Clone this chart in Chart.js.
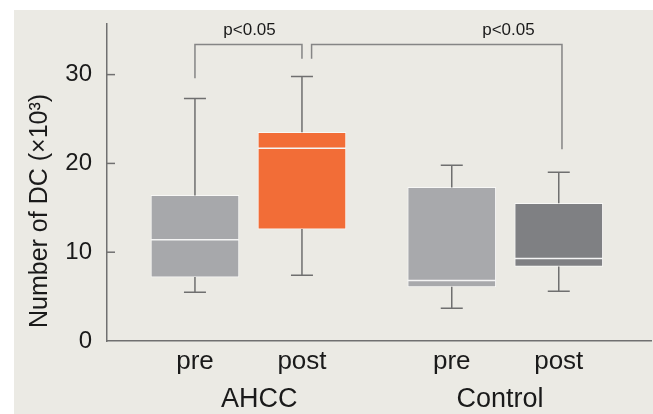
<!DOCTYPE html>
<html lang="en">
<head>
    <meta charset="UTF-8">
    <title>Number of DC</title>
    <script src="https://cdn.jsdelivr.net/npm/chart.js"></script>
    <style>
        html, body { margin: 0; padding: 0; background: #ffffff; }
        #wrap {
            position: absolute; left: 14px; top: 10px;
            width: 639px; height: 404px;
            background: #ebeae4;
        }
    </style>
</head>
<body>
    <div id="wrap"><canvas id="dcChart"></canvas></div>

    <script>
        // categories and groups
        const categories = ['pre', 'post', 'pre', 'post'];
        const catX = [1, 2, 3.4, 4.4];
        const groups = ['AHCC', 'Control'];
        const groupX = [1.6, 3.85];

        // box plot values (x10^3)
        const minVals = [5.5, 7.4, 3.7, 5.6];
        const q1Vals = [7.2, 12.6, 6.1, 8.4];
        const medianVals = [11.4, 21.7, 6.8, 9.3];
        const q3Vals = [16.4, 23.5, 17.3, 15.5];
        const maxVals = [27.3, 29.8, 19.8, 19.0];
        const boxColors = ['#a7a8ab', '#f26d37', '#a8a9ac', '#7f8083'];

        // y ticks
        const yTicks = [0, 10, 20, 30];

        // significance brackets
        const sigLabels = ['p<0.05', 'p<0.05'];
        const sigFromX = [1, 2.09];
        const sigToX = [2, 4.43];
        const sigFromY = [29.6, 31.8];
        const sigTopY = [33.4, 33.4];
        const sigToY = [31.8, 21.6];
        const sigLabelX = [1.51, 3.93];
        const sigLabelY = 35.0;

        const FONT = "'Liberation Sans', Arial, Helvetica, sans-serif";
        const axisColor = '#707070';

        const boxExtras = {
            id: 'boxExtras',
            afterDatasetsDraw(chart) {
                const ctx = chart.ctx;
                const x = chart.scales.x;
                const y = chart.scales.y;
                const meta = chart.getDatasetMeta(0);
                ctx.save();

                // whiskers and caps
                ctx.strokeStyle = '#6f6f6f';
                ctx.lineWidth = 1.5;
                meta.data.forEach((bar, i) => {
                    const cx = x.getPixelForValue(catX[i]);
                    const cap = 11;
                    ctx.beginPath();
                    ctx.moveTo(cx, y.getPixelForValue(q3Vals[i]));
                    ctx.lineTo(cx, y.getPixelForValue(maxVals[i]));
                    ctx.moveTo(cx - cap, y.getPixelForValue(maxVals[i]));
                    ctx.lineTo(cx + cap, y.getPixelForValue(maxVals[i]));
                    ctx.moveTo(cx, y.getPixelForValue(q1Vals[i]));
                    ctx.lineTo(cx, y.getPixelForValue(minVals[i]));
                    ctx.moveTo(cx - cap, y.getPixelForValue(minVals[i]));
                    ctx.lineTo(cx + cap, y.getPixelForValue(minVals[i]));
                    ctx.stroke();
                });

                // medians
                ctx.strokeStyle = '#f4f4f4';
                ctx.lineWidth = 1.5;
                meta.data.forEach((bar, i) => {
                    const my = y.getPixelForValue(medianVals[i]);
                    ctx.beginPath();
                    ctx.moveTo(bar.x - bar.width / 2, my);
                    ctx.lineTo(bar.x + bar.width / 2, my);
                    ctx.stroke();
                });

                // inner tick marks on y axis
                ctx.strokeStyle = axisColor;
                ctx.lineWidth = 1.5;
                yTicks.forEach(v => {
                    if (v === 0) return;
                    const py = y.getPixelForValue(v);
                    ctx.beginPath();
                    ctx.moveTo(x.left, py);
                    ctx.lineTo(x.left + 8, py);
                    ctx.stroke();
                });

                // significance brackets
                ctx.strokeStyle = '#858585';
                ctx.lineWidth = 1.5;
                ctx.fillStyle = '#1a1a1a';
                ctx.font = '17px ' + FONT;
                ctx.textAlign = 'center';
                ctx.textBaseline = 'middle';
                sigLabels.forEach((lab, i) => {
                    const x0 = x.getPixelForValue(sigFromX[i]);
                    const x1 = x.getPixelForValue(sigToX[i]);
                    const yt = y.getPixelForValue(sigTopY[i]);
                    ctx.beginPath();
                    ctx.moveTo(x0, y.getPixelForValue(sigFromY[i]));
                    ctx.lineTo(x0, yt);
                    ctx.lineTo(x1, yt);
                    ctx.lineTo(x1, y.getPixelForValue(sigToY[i]));
                    ctx.stroke();
                    ctx.fillText(lab, x.getPixelForValue(sigLabelX[i]), y.getPixelForValue(sigLabelY));
                });

                // group labels
                ctx.font = '27px ' + FONT;
                ctx.textBaseline = 'alphabetic';
                groups.forEach((g, i) => {
                    ctx.fillText(g, x.getPixelForValue(groupX[i]), x.top + 66);
                });

                // y axis title
                ctx.font = '25px ' + FONT;
                ctx.textAlign = 'left';
                ctx.textBaseline = 'middle';
                ctx.translate(26, y.bottom - 13);
                ctx.rotate(-Math.PI / 2);
                ctx.fillText('Number of DC (\u00d710\u00b3)', 0, 0);

                ctx.restore();
            }
        };

        const ctx = document.getElementById('dcChart').getContext('2d');
        new Chart(ctx, {
            type: 'bar',
            data: {
                datasets: [{
                    data: catX.map((v, i) => ({ x: v, y: [q1Vals[i], q3Vals[i]] })),
                    backgroundColor: boxColors,
                    borderColor: 'rgba(255,255,255,0.65)',
                    borderWidth: 1,
                    borderSkipped: false,
                    barThickness: 88
                }]
            },
            options: {
                responsive: true,
                maintainAspectRatio: false,
                animation: false,
                layout: { padding: { top: 14, right: 2, left: 0, bottom: 0 } },
                plugins: {
                    legend: { display: false },
                    tooltip: { enabled: false }
                },
                scales: {
                    x: {
                        type: 'linear',
                        offset: false,
                        min: 0.178,
                        max: 5.262,
                        afterFit: s => { s.height = 73; s.paddingLeft = 0; s.paddingRight = 0; },
                        afterBuildTicks: s => { s.ticks = catX.map(v => ({ value: v })); },
                        grid: { display: false, drawTicks: false, tickLength: 0, offset: false },
                        border: { display: true, color: axisColor, width: 1.5 },
                        ticks: {
                            padding: 5,
                            autoSkip: false,
                            maxRotation: 0,
                            color: '#1a1a1a',
                            font: { family: FONT, size: 26 },
                            callback: (v, i) => categories[i]
                        }
                    },
                    y: {
                        min: 0,
                        max: 35.7,
                        afterFit: s => { s.width = 93; s.paddingTop = 0; s.paddingBottom = 0; },
                        afterBuildTicks: s => { s.ticks = yTicks.map(v => ({ value: v })); },
                        grid: { display: false, drawTicks: false, tickLength: 0 },
                        border: { display: true, color: axisColor, width: 1.5 },
                        ticks: {
                            padding: 15,
                            color: '#1a1a1a',
                            font: { family: FONT, size: 24 }
                        }
                    }
                }
            },
            plugins: [boxExtras]
        });
    </script>
</body>
</html>
